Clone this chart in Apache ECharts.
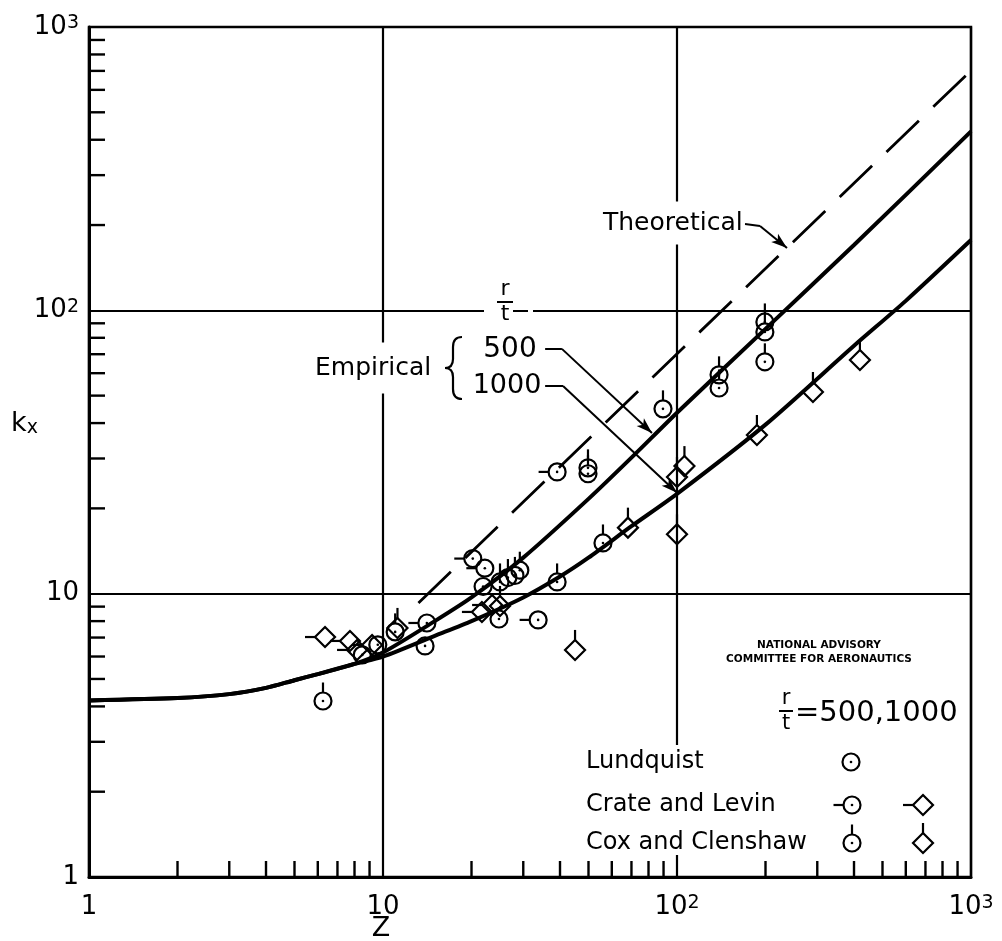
<!DOCTYPE html>
<html><head><meta charset="utf-8">
<script src="https://cdn.jsdelivr.net/npm/echarts@6/dist/echarts.min.js"></script>
<style>html,body{margin:0;padding:0;background:#fff}#c{width:1002px;height:941px}</style>
</head><body><div id="c"></div>
<script>
// ---- data ----
const tickLabels = {1:'1', 10:'10', 100:'10{s|2}', 1000:'10{s|3}'};
const xMinorTicks = [2,3,4,5,6,7,8,9,20,30,40,50,60,70,80,90,200,300,400,500,600,700,800,900];
const yMinorTicks = [2,3,4,5,6,7,8,9,20,30,40,50,60,70,80,90,200,300,400,500,600,700,800,900];

const theoretical = [[13.2,9.27],[1000,702]];
const sharedPart = [[1,4.2],[2,4.28],[3,4.42],[4,4.65],[5,4.95],[6,5.2],[8,5.65]];
const empirical500 = sharedPart.concat([[10,6.2],[15,8.0],[20,9.7],[30,13.4],[50,21.6],[70,30.2],[100,43.5],[200,86],[400,170],[1000,428]]);
const empirical1000 = sharedPart.concat([[10,6.0],[15,7.1],[20,8.0],[30,9.7],[40,11.5],[50,13.4],[70,17.3],[100,22.5],[200,39.5],[400,75],[600,108],[1000,177]]);

const lundquist = [[13.9,6.54],[24.8,8.14],[21.9,10.6],[8.5,6.08],[9.6,6.6]];
const crateCircles = [[14.1,7.88],[20.2,13.3],[22.2,12.3],[33.7,8.08],[39.1,26.9]];
const coxCircles = [[6.25,4.18],[11.0,7.33],[25.0,11.0],[26.6,11.4],[28.1,11.6],[29.2,12.1],[39.1,11.0],[56.0,15.1],[49.8,27.8],[49.8,26.5],[89.6,44.9],[139,59.2],[139,53.2],[199,91],[199,83.9],[199,65.8]];
const crateDiamonds = [[6.35,7.03],[7.72,6.81],[8.16,6.33],[9.18,6.59],[21.7,8.62],[23.5,9.12]];
const coxDiamonds = [[25.0,9.05],[11.2,7.57],[45.0,6.33],[68.1,17.1],[100,16.2],[100,25.8],[106,28.2],[187,36.3],[290,51.5],[419,66.8]];

// annotation leader lines (data coordinates)
const leaderTheo = [[170.3,201.8],[191.6,198.6],[236.7,166]];
const leader500 = [[35.6,73.1],[40.6,73.1],[82.2,36.9]];
const leader1000 = [[35.6,54.1],[40.96,54.1],[100,22.7]];

// ---- rendering ----
const FONT = '"DejaVu Sans", sans-serif';
const chart = echarts.init(document.getElementById('c'), null, {renderer:'canvas'});

function buildMarker(x, y, shape, tick) {
  const ch = [];
  const st = {stroke:'#000', fill:'none', lineWidth:2.2};
  const R = 8.5, D = 10, T = 10;
  if (shape === 'circle') {
    ch.push({type:'circle', shape:{cx:x, cy:y, r:R}, style:st});
    ch.push({type:'circle', shape:{cx:x, cy:y, r:1.3}, style:{fill:'#000'}});
  } else {
    ch.push({type:'polygon', shape:{points:[[x,y-D],[x+D,y],[x,y+D],[x-D,y]]}, style:st});
  }
  const e = shape === 'circle' ? R : D;
  if (tick === 'left') ch.push({type:'line', shape:{x1:x-e-T, y1:y, x2:x-e, y2:y}, style:{stroke:'#000', lineWidth:2.2}});
  if (tick === 'up') ch.push({type:'line', shape:{x1:x, y1:y-e-T, x2:x, y2:y-e}, style:{stroke:'#000', lineWidth:2.2}});
  return ch;
}
function markerSeries(name, data, shape, tick) {
  return {
    type:'custom', name, data, z:5, silent:true,
    renderItem: function(params, api) {
      const p = api.coord([api.value(0), api.value(1)]);
      return {type:'group', children: buildMarker(p[0], p[1], shape, tick)};
    }
  };
}
function leaderLines(pts) {
  const out = [];
  for (let i = 0; i < pts.length - 1; i++) {
    const last = i === pts.length - 2;
    out.push([{coord:pts[i], symbol:'none'}, {coord:pts[i+1], symbol: last ? 'arrow' : 'none'}]);
  }
  return out;
}
const labelFmt = v => tickLabels[Math.round(v)] !== undefined ? tickLabels[Math.round(v)] : '';
const richSup = {s:{fontSize:19, fontFamily:FONT, color:'#000', verticalAlign:'top', lineHeight:12}};

const graphics = [];
function text(t, x, y, size, opt) {
  graphics.push(Object.assign({type:'text', x, y, z:100, silent:true,
    style:Object.assign({text:t, font: size + 'px ' + FONT, fill:'#000', verticalAlign:'middle', align:'left'}, (opt||{}).style||{})}, (opt||{}).el||{}));
}
function rect(x, y, w, h) {
  graphics.push({type:'rect', z:90, silent:true, shape:{x, y, width:w, height:h}, style:{fill:'#fff'}});
}
function seg(x1, y1, x2, y2, w) {
  graphics.push({type:'line', z:100, silent:true, shape:{x1,y1,x2,y2}, style:{stroke:'#000', lineWidth:w||2}});
}
function curve(x1, y1, cx, cy, x2, y2) {
  graphics.push({type:'bezierCurve', z:100, silent:true, shape:{x1,y1,cpx1:cx,cpy1:cy,x2,y2}, style:{stroke:'#000', fill:'none', lineWidth:2.2}});
}
// Theoretical label
text('Theoretical', 601, 223, 25, {style:{backgroundColor:'#fff', padding:[9,2]}});
// r/t above empirical
rect(484, 280, 29, 42);
rect(528, 308, 5, 7);
text('r', 505, 289, 22, {style:{align:'center'}});
seg(497, 302, 513, 302, 2);
text('t', 505, 314, 22, {style:{align:'center'}});
// Empirical
text('Empirical', 312, 368, 25, {style:{backgroundColor:'#fff', padding:[13,3]}});
curve(462,337, 453,337, 453,347);
seg(453,347,453,359,2.2);
curve(453,359, 453,368, 445,368);
curve(445,368, 453,368, 453,377);
seg(453,377,453,389,2.2);
curve(453,389, 453,399, 462,399);
text('500', 510, 350, 28, {style:{align:'center'}});
text('1000', 507, 386, 27, {style:{align:'center'}});
// NACA
text('NATIONAL ADVISORY', 819, 645, 10, {style:{align:'center', font:'bold 10.5px ' + FONT}});
text('COMMITTEE FOR AERONAUTICS', 819, 659, 10, {style:{align:'center', font:'bold 10.5px ' + FONT}});
// r/t = 500,1000
text('r', 786, 699, 21, {style:{align:'center'}});
seg(779, 711, 793, 711, 2);
text('t', 786, 724, 21, {style:{align:'center'}});
text('=500,1000', 795, 713, 29);
// Legend
rect(580, 745, 252, 110);
text('Lundquist', 586, 762, 24);
text('Crate and Levin', 586, 805, 24);
text('Cox and Clenshaw', 586, 843, 24);
graphics.push({type:'group', z:100, silent:true, children: [].concat(
  buildMarker(851, 762, 'circle', null),
  buildMarker(852, 805, 'circle', 'left'),
  buildMarker(923, 805, 'diamond', 'left'),
  buildMarker(852, 843, 'circle', 'up'),
  buildMarker(923, 843, 'diamond', 'up')
)});
// axis names
text('Z', 381, 929, 27, {style:{align:'center'}});
text('k{sub|x}', 11, 424, 27, {style:{rich:{sub:{fontSize:19, fontFamily:FONT, verticalAlign:'bottom', lineHeight:14}}}});

const axisCommon = {
  type:'log', logBase:10, min:1, max:1000, splitNumber:3,
  axisLine:{show:true, lineStyle:{color:'#000', width:3}},
  axisTick:{show:false}, minorTick:{show:false},
  splitLine:{show:true, lineStyle:{color:'#000', width:2.2}},
  axisLabel:{formatter:labelFmt, color:'#000', fontSize:26, fontFamily:FONT, rich:richSup, showMinLabel:true, showMaxLabel:true}
};

chart.setOption({
  animation:false,
  backgroundColor:'#fff',
  grid:{left:89, right:31, top:27, bottom:64, show:true, borderColor:'#000', borderWidth:2.5, containLabel:false},
  xAxis: Object.assign({}, axisCommon, {axisLabel:Object.assign({}, axisCommon.axisLabel, {margin:17})}),
  yAxis: Object.assign({}, axisCommon, {axisLabel:Object.assign({}, axisCommon.axisLabel, {margin:10})}),
  graphic: graphics,
  series: [
    {type:'line', name:'Theoretical', data:theoretical, symbol:'none', silent:true, z:3,
     lineStyle:{color:'#000', width:2.8, type:[45,20]},
     markLine:{silent:true, animation:false, symbol:['none','none'], symbolSize:[8,16], label:{show:false},
       lineStyle:{type:'solid', color:'#000', width:2},
       data: leaderLines(leaderTheo).concat(leaderLines(leader500), leaderLines(leader1000))}},
    {type:'line', name:'Empirical 500', data:empirical500, symbol:'none', smooth:0.25, silent:true, z:3,
     lineStyle:{color:'#000', width:4}},
    {type:'line', name:'Empirical 1000', data:empirical1000, symbol:'none', smooth:0.25, silent:true, z:3,
     lineStyle:{color:'#000', width:4}},
    {type:'custom', name:'xticks', silent:true, z:4, data:xMinorTicks.map(v => [v, 1]),
     renderItem:(params, api) => { const p = api.coord([api.value(0), api.value(1)]);
       return {type:'line', shape:{x1:p[0], y1:p[1], x2:p[0], y2:p[1]-16}, style:{stroke:'#000', lineWidth:2.4}}; }},
    {type:'custom', name:'yticks', silent:true, z:4, data:yMinorTicks.map(v => [1, v]),
     renderItem:(params, api) => { const p = api.coord([api.value(0), api.value(1)]);
       return {type:'line', shape:{x1:p[0], y1:p[1], x2:p[0]+16, y2:p[1]}, style:{stroke:'#000', lineWidth:2.4}}; }},
    markerSeries('Lundquist', lundquist, 'circle', null),
    markerSeries('Crate and Levin (circle)', crateCircles, 'circle', 'left'),
    markerSeries('Cox and Clenshaw (circle)', coxCircles, 'circle', 'up'),
    markerSeries('Crate and Levin (diamond)', crateDiamonds, 'diamond', 'left'),
    markerSeries('Cox and Clenshaw (diamond)', coxDiamonds, 'diamond', 'up')
  ]
});
</script></body></html>
